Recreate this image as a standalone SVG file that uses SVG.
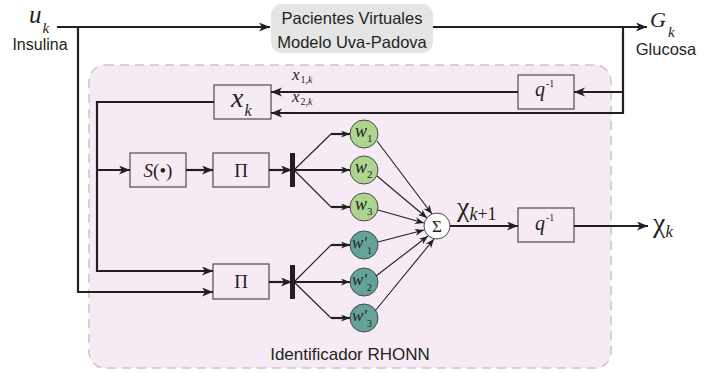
<svg xmlns="http://www.w3.org/2000/svg" width="710" height="374" viewBox="0 0 710 374">
  <style>
    .sans { font-family: "Liberation Sans", Arial, sans-serif; fill: #231f20; }
    .math { font-family: "Liberation Serif", "Times New Roman", serif; font-style: italic; fill: #231f20; }
    .up { font-family: "Liberation Serif", "Times New Roman", serif; fill: #231f20; }
    .box { fill: none; stroke: #4d4a4b; stroke-width: 1.2; }
    .thick { fill: none; stroke: #231f20; stroke-width: 2.2; }
    .thin { fill: none; stroke: #231f20; stroke-width: 1.1; }
    .wg { fill: #acd58f; stroke: #4d4a4b; stroke-width: 1; }
    .wt { fill: #64a399; stroke: #4d4a4b; stroke-width: 1; }
  </style>
  <defs>
    <marker id="arr" markerUnits="userSpaceOnUse" markerWidth="12" markerHeight="10" refX="11" refY="4.5" orient="auto">
      <path d="M0,0 L11,4.5 L0,9 L3,4.5 z" fill="#231f20"/>
    </marker>
    <marker id="arrs" markerUnits="userSpaceOnUse" markerWidth="10" markerHeight="8" refX="9" refY="3.5" orient="auto">
      <path d="M0,0 L9,3.5 L0,7 L2.5,3.5 z" fill="#231f20"/>
    </marker>
  </defs>

  <!-- identifier region -->
  <g id="region">
    <rect x="89" y="65" width="522" height="303" rx="16" fill="#f6ebf4" stroke="#c9c6c8" stroke-width="1.5" stroke-dasharray="9,6"/>
    <text class="sans" x="350" y="360" font-size="17" text-anchor="middle">Identificador RHONN</text>
  </g>

  <!-- plant -->
  <g id="plant">
    <rect x="271" y="4" width="162" height="49" rx="11" fill="#e5e5e5"/>
    <text class="sans" x="352" y="24" font-size="16.5" text-anchor="middle">Pacientes Virtuales</text>
    <text class="sans" x="352" y="48" font-size="16.5" text-anchor="middle">Modelo Uva-Padova</text>
  </g>

  <!-- input / output labels -->
  <g id="input">
    <text class="math" x="29" y="23" font-size="25">u<tspan font-size="15" dx="1" dy="10">k</tspan></text>
    <text class="sans" x="40" y="50" font-size="16" text-anchor="middle">Insulina</text>
  </g>
  <g id="output">
    <text class="math" x="650" y="27" font-size="22">G<tspan font-size="15" dx="2" dy="10">k</tspan></text>
    <text class="sans" x="666" y="55" font-size="16.5" text-anchor="middle">Glucosa</text>
  </g>

  <!-- state vector block -->
  <g id="xk">
    <rect class="box" x="214" y="85" width="57" height="34"/>
    <text class="math" x="231" y="107" font-size="28">x<tspan font-size="16" dx="1" dy="9">k</tspan></text>
  </g>
  <text class="math" x="292" y="80" font-size="17">x<tspan font-size="10" dx="1" dy="3" font-style="normal">1,</tspan><tspan font-size="10">k</tspan></text>
  <text class="math" x="292" y="102" font-size="17">x<tspan font-size="10" dx="1" dy="3" font-style="normal">2,</tspan><tspan font-size="10">k</tspan></text>

  <!-- delay in feedback -->
  <g id="delay-top">
    <rect class="box" x="518" y="75" width="56" height="34"/>
    <text class="math" x="535" y="96" font-size="20">q<tspan font-size="10" dx="1" dy="-9" font-style="normal">-1</tspan></text>
  </g>

  <!-- sigmoid -->
  <g id="sigmoid">
    <rect class="box" x="130" y="153" width="56" height="34"/>
    <text class="math" x="158" y="177" font-size="19" text-anchor="middle">S<tspan font-style="normal">(•)</tspan></text>
  </g>

  <!-- products -->
  <g id="prod1">
    <rect class="box" x="213" y="153" width="56" height="34"/>
    <text class="up" x="241" y="177" font-size="19" text-anchor="middle">Π</text>
  </g>
  <g id="prod2">
    <rect class="box" x="213" y="264" width="56" height="35"/>
    <text class="up" x="241" y="288" font-size="19" text-anchor="middle">Π</text>
  </g>

  <!-- distribution bars -->
  <rect id="bar1" x="290" y="153" width="5" height="34" fill="#231f20"/>
  <rect id="bar2" x="290" y="265" width="5" height="34" fill="#231f20"/>

  <!-- weights -->
  <g id="w1"><circle class="wg" cx="364" cy="134" r="14"/><text class="math" x="355" y="137" font-size="18">w<tspan font-size="11" font-style="normal" dy="5">1</tspan></text></g>
  <g id="w2"><circle class="wg" cx="364" cy="170" r="14"/><text class="math" x="355" y="173" font-size="18">w<tspan font-size="11" font-style="normal" dy="5">2</tspan></text></g>
  <g id="w3"><circle class="wg" cx="364" cy="207" r="14"/><text class="math" x="355" y="210" font-size="18">w<tspan font-size="11" font-style="normal" dy="5">3</tspan></text></g>
  <g id="wp1"><circle class="wt" cx="364" cy="245" r="14"/><text class="math" x="352" y="248" font-size="17">w′<tspan font-size="10" font-style="normal" dy="6">1</tspan></text></g>
  <g id="wp2"><circle class="wt" cx="364" cy="282" r="14"/><text class="math" x="352" y="285" font-size="17">w′<tspan font-size="10" font-style="normal" dy="6">2</tspan></text></g>
  <g id="wp3"><circle class="wt" cx="364" cy="318" r="14"/><text class="math" x="352" y="321" font-size="17">w′<tspan font-size="10" font-style="normal" dy="6">3</tspan></text></g>

  <!-- summation -->
  <g id="sum">
    <circle cx="437" cy="226" r="13" fill="#ffffff" stroke="#4d4a4b" stroke-width="1"/>
    <text class="up" x="437" y="232" font-size="17" text-anchor="middle">Σ</text>
  </g>
  <text class="up" x="457" y="216" font-size="28">χ<tspan class="math" font-size="18" dy="4">k</tspan><tspan font-size="18">+1</tspan></text>

  <!-- output delay -->
  <g id="delay-out">
    <rect class="box" x="518" y="208" width="56" height="34"/>
    <text class="math" x="535" y="230" font-size="20">q<tspan font-size="10" dx="1" dy="-9" font-style="normal">-1</tspan></text>
  </g>
  <text class="up" x="653" y="232" font-size="28">χ<tspan class="math" font-size="17" dy="5">k</tspan></text>

  <!-- connectors -->
  <g id="connectors">
    <!-- plant input and output -->
    <line class="thick" x1="57" y1="27" x2="270" y2="27" marker-end="url(#arr)"/>
    <line class="thick" x1="433" y1="27" x2="647" y2="27" marker-end="url(#arr)"/>
    <!-- glucose feedback -->
    <polyline class="thick" points="623,27 623,113 271,113" marker-end="url(#arr)"/>
    <line class="thick" x1="623" y1="92" x2="574" y2="92" marker-end="url(#arr)"/>
    <line class="thick" x1="518" y1="92" x2="271" y2="92" marker-end="url(#arr)"/>
    <!-- state distribution -->
    <polyline class="thick" points="214,102 97,102 97,271 213,271" marker-end="url(#arr)"/>
    <line class="thick" x1="97" y1="170" x2="130" y2="170" marker-end="url(#arr)"/>
    <!-- input distribution -->
    <polyline class="thick" points="78,27 78,292 213,292" marker-end="url(#arr)"/>
    <!-- chain to products -->
    <line class="thick" x1="186" y1="170" x2="213" y2="170" marker-end="url(#arr)"/>
    <line class="thick" x1="269" y1="170" x2="292" y2="170" marker-end="url(#arr)"/>
    <line class="thick" x1="269" y1="282" x2="292" y2="282" marker-end="url(#arr)"/>
    <!-- fan out to weights -->
    <polyline class="thin" points="294,170 331,134"/>
    <line class="thick" x1="331" y1="134" x2="350" y2="134" marker-end="url(#arrs)"/>
    <line class="thick" x1="294" y1="170" x2="350" y2="170" marker-end="url(#arrs)"/>
    <polyline class="thin" points="294,170 331,207"/>
    <line class="thick" x1="331" y1="207" x2="350" y2="207" marker-end="url(#arrs)"/>
    <polyline class="thin" points="294,282 331,245"/>
    <line class="thick" x1="331" y1="245" x2="350" y2="245" marker-end="url(#arrs)"/>
    <line class="thick" x1="294" y1="282" x2="350" y2="282" marker-end="url(#arrs)"/>
    <polyline class="thin" points="294,282 331,318"/>
    <line class="thick" x1="331" y1="318" x2="350" y2="318" marker-end="url(#arrs)"/>
    <!-- weights into sum -->
    <line class="thin" x1="377" y1="141" x2="432" y2="214" marker-end="url(#arrs)"/>
    <line class="thin" x1="377" y1="176" x2="427" y2="218" marker-end="url(#arrs)"/>
    <line class="thin" x1="378" y1="210" x2="424" y2="223" marker-end="url(#arrs)"/>
    <line class="thin" x1="378" y1="242" x2="424" y2="230" marker-end="url(#arrs)"/>
    <line class="thin" x1="376" y1="276" x2="428" y2="236" marker-end="url(#arrs)"/>
    <line class="thin" x1="375" y1="311" x2="434" y2="239" marker-end="url(#arrs)"/>
    <!-- sum to output -->
    <line class="thick" x1="450" y1="226" x2="518" y2="226" marker-end="url(#arr)"/>
    <line class="thick" x1="574" y1="226" x2="648" y2="226" marker-end="url(#arr)"/>
  </g>
</svg>
